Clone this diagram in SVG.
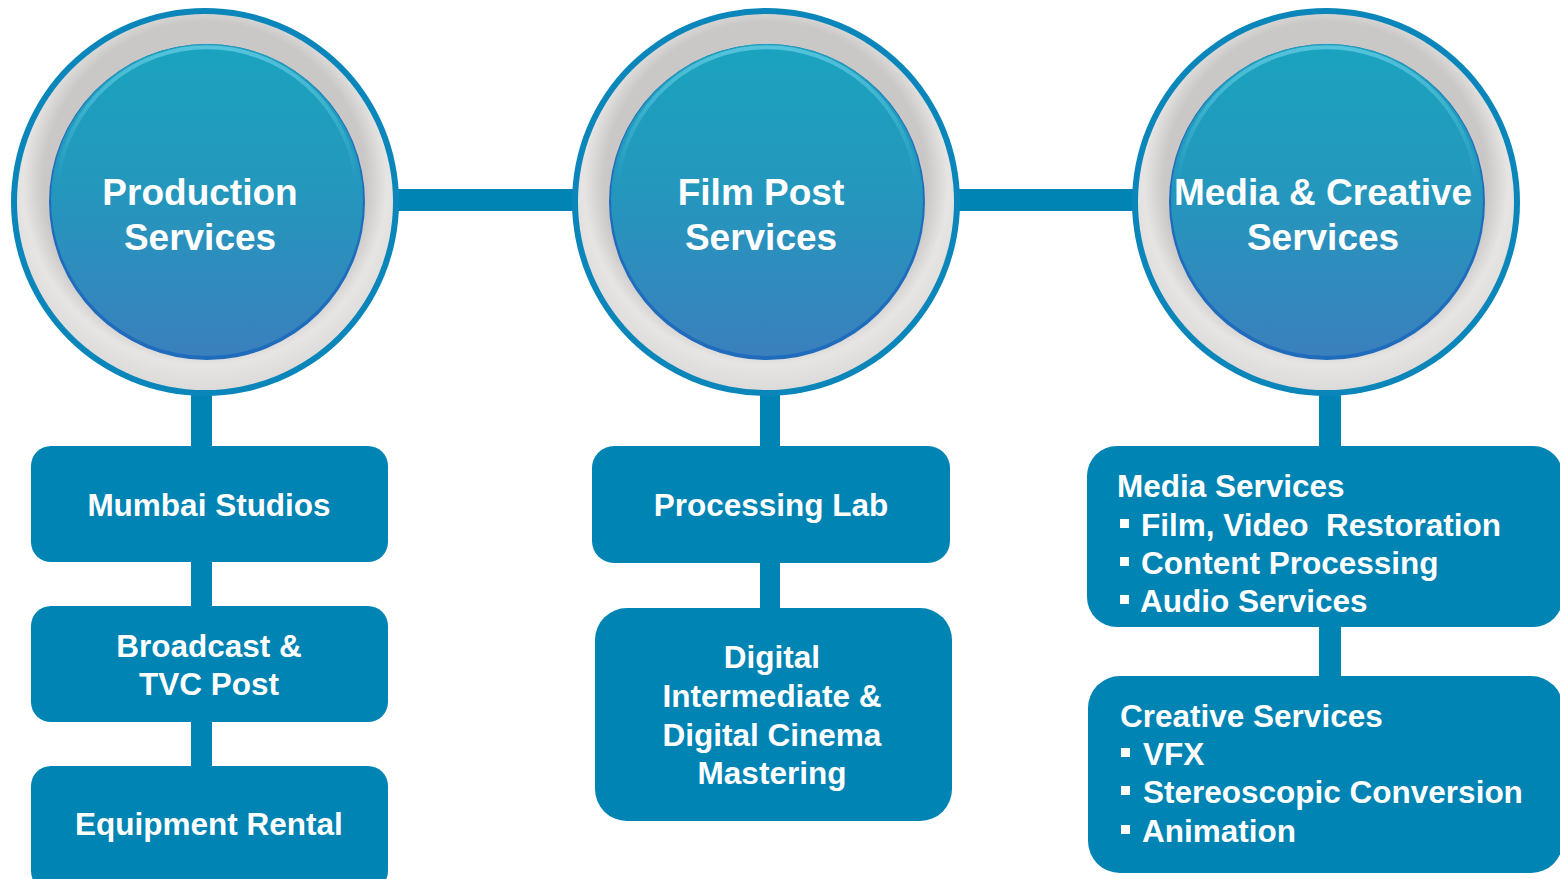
<svg xmlns="http://www.w3.org/2000/svg" width="1560" height="879" viewBox="0 0 1560 879">
<defs>
<radialGradient id="greyRing" cx="0.5" cy="0.45" r="0.55">
<stop offset="0.78" stop-color="#c9c8c6"/>
<stop offset="0.88" stop-color="#e6e5e3"/>
<stop offset="1" stop-color="#dcdbd9"/>
</radialGradient>
<linearGradient id="disk" x1="0" y1="0" x2="0" y2="1">
<stop offset="0" stop-color="#1aa3be"/>
<stop offset="0.5" stop-color="#2596bd"/>
<stop offset="1" stop-color="#3a80bd"/>
</linearGradient>
<linearGradient id="hl" x1="0" y1="0" x2="0" y2="1">
<stop offset="0" stop-color="#5cc6df" stop-opacity="0.9"/>
<stop offset="1" stop-color="#5cc6df" stop-opacity="0"/>
</linearGradient>
</defs>
<style>
.conn{fill:#0084b4}
.box{fill:#0084b4}
.ring{fill:#0a86bb}
.t{font-family:"Liberation Sans",Arial,sans-serif;font-weight:bold;fill:#ffffff}
.ct{font-size:37px;text-anchor:middle}
.bt{font-size:31.5px;text-anchor:middle}
.lt{font-size:31.5px;white-space:pre}
.bul{fill:#ffffff}
</style>
<g id="connectors">
<rect class="conn" x="390" y="189" width="190" height="22"/>
<rect class="conn" x="950" y="189" width="190" height="22"/>
<rect class="conn" x="191" y="380" width="21" height="70"/>
<rect class="conn" x="191" y="558" width="21" height="52"/>
<rect class="conn" x="191" y="718" width="21" height="52"/>
<rect class="conn" x="760" y="380" width="20" height="70"/>
<rect class="conn" x="760" y="558" width="20" height="54"/>
<rect class="conn" x="1319" y="380" width="22" height="70"/>
<rect class="conn" x="1319" y="622" width="22" height="58"/>
</g>
<g id="circle-production">
<circle class="ring" cx="205" cy="202" r="194"/>
<circle cx="205" cy="202" r="188" fill="url(#greyRing)"/>
<circle cx="207" cy="202" r="158" fill="#1f6cbd"/>
<circle cx="207" cy="200" r="156" fill="url(#disk)"/>
<path d="M 58 180 A 150 150 0 0 1 356 180" fill="none" stroke="url(#hl)" stroke-width="4"/>
<text class="t ct" x="200" y="205">Production</text>
<text class="t ct" x="200" y="250">Services</text>
</g>
<g id="circle-filmpost">
<circle class="ring" cx="766" cy="202" r="194"/>
<circle cx="766" cy="202" r="188" fill="url(#greyRing)"/>
<circle cx="767" cy="202" r="158" fill="#1f6cbd"/>
<circle cx="767" cy="200" r="156" fill="url(#disk)"/>
<path d="M 618 180 A 150 150 0 0 1 916 180" fill="none" stroke="url(#hl)" stroke-width="4"/>
<text class="t ct" x="761" y="205">Film Post</text>
<text class="t ct" x="761" y="250">Services</text>
</g>
<g id="circle-media">
<circle class="ring" cx="1326" cy="202" r="194"/>
<circle cx="1326" cy="202" r="188" fill="url(#greyRing)"/>
<circle cx="1327" cy="202" r="158" fill="#1f6cbd"/>
<circle cx="1327" cy="200" r="156" fill="url(#disk)"/>
<path d="M 1178 180 A 150 150 0 0 1 1476 180" fill="none" stroke="url(#hl)" stroke-width="4"/>
<text class="t ct" x="1323" y="205">Media &amp; Creative</text>
<text class="t ct" x="1323" y="250">Services</text>
</g>
<g id="box-mumbai">
<rect class="box" x="31" y="446" width="357" height="116" rx="20"/>
<text class="t bt" x="209" y="516">Mumbai Studios</text>
</g>
<g id="box-broadcast">
<rect class="box" x="31" y="606" width="357" height="116" rx="20"/>
<text class="t bt" x="209" y="657">Broadcast &amp;</text>
<text class="t bt" x="209" y="695">TVC Post</text>
</g>
<g id="box-equipment">
<rect class="box" x="31" y="766" width="357" height="125" rx="20"/>
<text class="t bt" x="209" y="835">Equipment Rental</text>
</g>
<g id="box-processing">
<rect class="box" x="592" y="446" width="358" height="117" rx="22"/>
<text class="t bt" x="771" y="516">Processing Lab</text>
</g>
<g id="box-digital">
<rect class="box" x="595" y="608" width="357" height="213" rx="32"/>
<text class="t bt" x="772" y="668">Digital</text>
<text class="t bt" x="772" y="707">Intermediate &amp;</text>
<text class="t bt" x="772" y="746">Digital Cinema</text>
<text class="t bt" x="772" y="784">Mastering</text>
</g>
<g id="box-mediaservices">
<rect class="box" x="1087" y="446" width="476" height="181" rx="30"/>
<text class="t lt" x="1117" y="497">Media Services</text>
<rect class="bul" x="1120" y="519" width="9" height="9"/>
<text class="t lt" x="1141" y="536">Film, Video  Restoration</text>
<rect class="bul" x="1120" y="557" width="9" height="9"/>
<text class="t lt" x="1141" y="574">Content Processing</text>
<rect class="bul" x="1120" y="595" width="9" height="9"/>
<text class="t lt" x="1140" y="612">Audio Services</text>
</g>
<g id="box-creative">
<rect class="box" x="1088" y="676" width="475" height="197" rx="32"/>
<text class="t lt" x="1120" y="727">Creative Services</text>
<rect class="bul" x="1121" y="748" width="9" height="9"/>
<text class="t lt" x="1143" y="765">VFX</text>
<rect class="bul" x="1121" y="786" width="9" height="9"/>
<text class="t lt" x="1143" y="803">Stereoscopic Conversion</text>
<rect class="bul" x="1121" y="825" width="9" height="9"/>
<text class="t lt" x="1142" y="842">Animation</text>
</g>
</svg>
